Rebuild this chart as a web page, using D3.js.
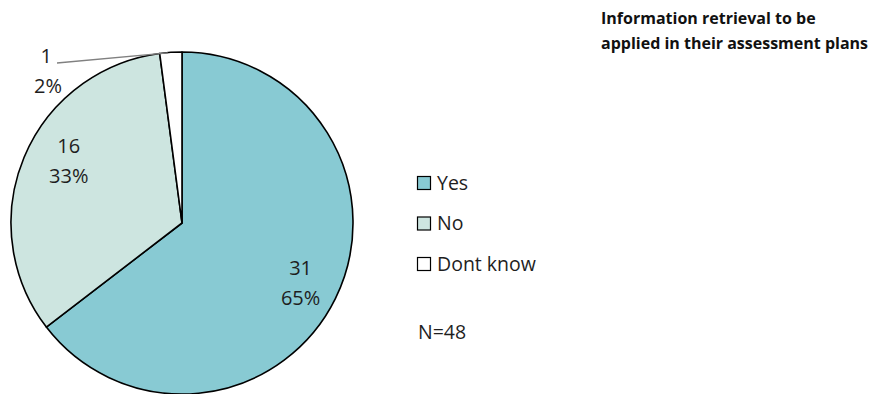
<!DOCTYPE html>
<html>
<head>
<meta charset="utf-8">
<script src="https://cdn.jsdelivr.net/npm/d3@7"></script>
<style>
  html, body { margin: 0; padding: 0; background: #fff; }
  svg { display: block; }
</style>
</head>
<body>
<svg id="chart" width="884" height="394"></svg>
<script>
// Survey answers
const categories = ["Yes", "No", "Dont know"];
const counts = [31, 16, 1];
const percentLabels = ["65%", "33%", "2%"];
const colors = ["#88CAD3", "#CDE5E0", "#FFFFFF"];
const titleLines = ["Information retrieval to be", "applied in their assessment plans"];
const noteText = "N=48";

const svg = d3.select("#chart");
const font = "'Open Sans', 'Noto Sans', sans-serif";
const textColor = "#1e1e1e";

const cx = 182, cy = 223, r = 171;

const pie = d3.pie().sort(null).value(d => d)(counts);
const arc = d3.arc().innerRadius(0).outerRadius(r);
const labelArc = d3.arc().innerRadius(r * 0.78).outerRadius(r * 0.78);
// nudges for the inside labels (px)
const labelNudge = [[-1, 0], [10, -12]];

const g = svg.append("g").attr("transform", `translate(${cx},${cy})`);

g.selectAll("path.slice")
  .data(pie)
  .join("path")
  .attr("class", "slice")
  .attr("d", arc)
  .attr("fill", (d, i) => colors[i])
  .attr("stroke", "#000")
  .attr("stroke-width", 1.6)
  .attr("stroke-linejoin", "round");

// Inside labels for the two large slices
pie.forEach((d, i) => {
  if (i === 2) return;
  const [x0, y0] = labelArc.centroid(d);
  const x = x0 + labelNudge[i][0], y = y0 + labelNudge[i][1];
  const t = g.append("text")
    .attr("text-anchor", "middle")
    .attr("font-family", font)
    .attr("font-size", 20)
    .attr("fill", textColor);
  t.append("tspan").attr("x", x).attr("y", y - 7).text(counts[i]);
  t.append("tspan").attr("x", x).attr("y", y + 23).text(percentLabels[i]);
});

// Outside label with leader line for the small slice
{
  const d = pie[2];
  const mid = (d.startAngle + d.endAngle) / 2;
  const ex = Math.sin(mid) * r, ey = -Math.cos(mid) * r;
  g.append("line")
    .attr("x1", -125).attr("y1", -160)
    .attr("x2", ex - 3).attr("y2", ey + 0.5)
    .attr("stroke", "#808080")
    .attr("stroke-width", 1.3);
  g.append("text")
    .attr("x", -130).attr("y", -160)
    .attr("text-anchor", "end")
    .attr("font-family", font).attr("font-size", 20).attr("fill", textColor)
    .text(counts[2]);
  g.append("text")
    .attr("x", -120).attr("y", -130)
    .attr("text-anchor", "end")
    .attr("font-family", font).attr("font-size", 20).attr("fill", textColor)
    .text(percentLabels[2]);
}

// Legend
const legend = svg.append("g").attr("transform", "translate(417,176)");
categories.forEach((c, i) => {
  const row = legend.append("g").attr("transform", `translate(0,${i * 40.5})`);
  row.append("rect")
    .attr("x", 0.5).attr("y", 0.5)
    .attr("width", 13).attr("height", 13)
    .attr("fill", colors[i])
    .attr("stroke", "#000").attr("stroke-width", 1.2);
  row.append("text")
    .attr("x", 20).attr("y", 13.5)
    .attr("font-family", font).attr("font-size", 19.5).attr("fill", textColor)
    .text(c);
});

svg.append("text")
  .attr("x", 418).attr("y", 339)
  .attr("font-family", font).attr("font-size", 19.5).attr("fill", textColor)
  .text(noteText);

// Title block, top right
titleLines.forEach((line, i) => {
  svg.append("text")
    .attr("x", 601).attr("y", 24 + i * 25)
    .attr("font-family", font).attr("font-size", 16)
    .attr("font-weight", "bold").attr("fill", "#111")
    .text(line);
});
</script>
</body>
</html>
